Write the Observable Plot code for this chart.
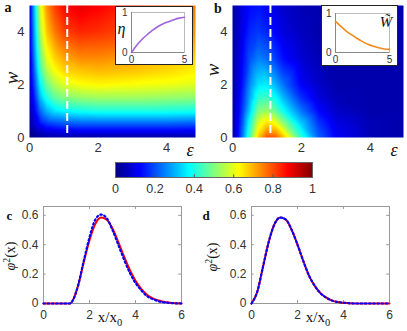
<!DOCTYPE html>
<html><head><meta charset="utf-8">
<script src="https://cdn.jsdelivr.net/npm/d3@7"></script>
<script src="https://cdn.jsdelivr.net/npm/@observablehq/plot@0.6"></script>
<style>
body{margin:0;background:#fff}
#root{position:relative;width:407px;height:331px;overflow:hidden;background:#fff}
#root svg{position:absolute;overflow:visible}
.lbl{position:absolute;transform:translate(-50%,-50%);white-space:nowrap;line-height:1;color:#111;font-family:"Liberation Serif","DejaVu Serif",serif}
.rot{transform:translate(-50%,-50%) rotate(-90deg)}
.inset{position:absolute;background:#fff;border:1px solid #222;box-sizing:border-box}
</style></head><body><div id="root"></div>
<script>
// ---------- data ----------
// panel a : heat map over (epsilon, w)
const epsA = [0, 0.15, 0.3, 0.5, 0.75, 1, 1.5, 2, 3, 4, 5];
const wA = [0, 0.5, 1, 1.5, 2, 2.5, 3, 4, 5];
const a_w0   = [0.00, 0.01, 0.02, 0.03, 0.03, 0.03, 0.03, 0.03, 0.03, 0.03, 0.03];
const a_w05  = [0.03, 0.08, 0.13, 0.17, 0.19, 0.20, 0.21, 0.21, 0.21, 0.21, 0.20];
const a_w1   = [0.04, 0.12, 0.22, 0.30, 0.35, 0.37, 0.39, 0.40, 0.40, 0.40, 0.39];
const a_w15  = [0.05, 0.16, 0.30, 0.40, 0.47, 0.50, 0.52, 0.53, 0.53, 0.52, 0.51];
const a_w2   = [0.06, 0.20, 0.36, 0.48, 0.55, 0.59, 0.62, 0.63, 0.62, 0.61, 0.59];
const a_w25  = [0.07, 0.23, 0.42, 0.55, 0.62, 0.66, 0.68, 0.69, 0.68, 0.66, 0.63];
const a_w3   = [0.07, 0.26, 0.46, 0.60, 0.67, 0.71, 0.74, 0.74, 0.72, 0.69, 0.66];
const a_w4   = [0.08, 0.30, 0.53, 0.68, 0.76, 0.81, 0.84, 0.83, 0.80, 0.76, 0.72];
const a_w5   = [0.08, 0.33, 0.58, 0.73, 0.82, 0.87, 0.90, 0.88, 0.84, 0.79, 0.75];
const rowsA = [a_w0, a_w05, a_w1, a_w15, a_w2, a_w25, a_w3, a_w4, a_w5];

// panel b : heat map
const epsB = [0, 0.15, 0.3, 0.5, 0.75, 1, 1.25, 1.5, 2, 2.5, 3, 4, 5];
const wB = [0, 0.5, 1, 1.5, 2, 3, 4, 5];
const b_w0  = [0.03, 0.12, 0.25, 0.45, 0.68, 0.80, 0.79, 0.68, 0.42, 0.22, 0.12, 0.05, 0.04];
const b_w05 = [0.03, 0.11, 0.22, 0.40, 0.60, 0.67, 0.63, 0.52, 0.33, 0.18, 0.10, 0.05, 0.04];
const b_w1  = [0.03, 0.10, 0.19, 0.33, 0.50, 0.53, 0.47, 0.38, 0.24, 0.13, 0.07, 0.04, 0.04];
const b_w15 = [0.03, 0.09, 0.17, 0.29, 0.42, 0.44, 0.38, 0.30, 0.17, 0.09, 0.05, 0.04, 0.04];
const b_w2  = [0.03, 0.08, 0.15, 0.26, 0.35, 0.36, 0.30, 0.23, 0.12, 0.07, 0.04, 0.04, 0.04];
const b_w3  = [0.03, 0.07, 0.13, 0.20, 0.25, 0.23, 0.18, 0.13, 0.08, 0.05, 0.04, 0.04, 0.04];
const b_w4  = [0.03, 0.06, 0.11, 0.16, 0.18, 0.16, 0.12, 0.09, 0.06, 0.04, 0.04, 0.04, 0.04];
const b_w5  = [0.03, 0.06, 0.10, 0.13, 0.14, 0.12, 0.09, 0.07, 0.05, 0.04, 0.04, 0.04, 0.04];
const rowsB = [b_w0, b_w05, b_w1, b_w15, b_w2, b_w3, b_w4, b_w5];

const dashEps = 1.1;
const heatTicks = [0, 2, 4];

// insets
const insetEps = [0, 0.5, 1, 1.5, 2, 2.5, 3, 3.5, 4, 4.5, 5];
const etaVals  = [0, 0.18, 0.33, 0.45, 0.56, 0.65, 0.72, 0.77, 0.82, 0.86, 0.88];
const wTilde   = [0.80, 0.67, 0.55, 0.45, 0.36, 0.28, 0.21, 0.16, 0.12, 0.09, 0.08];
const insetXTicks = [0, 5];
const insetYTicks = [0, 1];

// colour bar
const cbTicks = [0, 0.2, 0.4, 0.6, 0.8, 1];
const jetStops  = [0, 0.125, 0.375, 0.625, 0.875, 1];
const jetColors = ["#000086", "#0000ff", "#00ffff", "#ffff00", "#ff0000", "#800000"];

// panel c
const xC    = [0, 0.5, 1, 1.15, 1.3, 1.5, 1.75, 2, 2.25, 2.5, 2.75, 3, 3.25, 3.5, 3.75, 4, 4.25, 4.5, 4.75, 5, 5.5, 6];
const redC  = [0, 0, 0, 0, 0.03, 0.12, 0.28, 0.43, 0.54, 0.585, 0.57, 0.51, 0.42, 0.32, 0.23, 0.155, 0.10, 0.06, 0.035, 0.02, 0.005, 0];
const blueC = [0, 0, 0, 0, 0.03, 0.12, 0.29, 0.45, 0.57, 0.605, 0.58, 0.50, 0.40, 0.30, 0.21, 0.14, 0.09, 0.05, 0.03, 0.015, 0.004, 0];
// panel d
const xD    = [0, 0.25, 0.5, 0.75, 1, 1.25, 1.5, 1.75, 2, 2.25, 2.5, 2.75, 3, 3.25, 3.5, 3.75, 4, 4.5, 5, 6];
const redD  = [0, 0.08, 0.25, 0.42, 0.54, 0.585, 0.57, 0.50, 0.40, 0.29, 0.19, 0.12, 0.07, 0.04, 0.02, 0.01, 0.005, 0, 0, 0];
const blueD = [0, 0.08, 0.25, 0.42, 0.54, 0.585, 0.57, 0.50, 0.40, 0.29, 0.19, 0.12, 0.07, 0.04, 0.02, 0.01, 0.005, 0, 0, 0];
const lineXTicks = [0, 2, 4, 6];
const lineYTicks = [0, 0.2, 0.4, 0.6];

// ---------- helpers ----------
const root = document.getElementById("root");
const fmt = d => String(d);
function place(svg, left, top) {
  svg.style.left = left + "px"; svg.style.top = top + "px";
  root.appendChild(svg);
}
function label(html, x, y, size, cls = "lbl") {
  const d = document.createElement("div");
  d.className = cls;
  d.innerHTML = html;
  d.style.left = x + "px"; d.style.top = y + "px";
  d.style.fontSize = size + "px";
  root.appendChild(d);
}
function grid(xs, ys, rows) {
  const out = [];
  rows.forEach((row, i) => row.forEach((v, j) => out.push({x: xs[j], y: ys[i], v})));
  return out;
}
const jet = {type: "linear", domain: jetStops, range: jetColors, interpolate: "rgb", clamp: true};
const sansStyle = (fs) => ({fontFamily: "'Liberation Sans', Arial, sans-serif", fontSize: fs + "px", color: "#333", background: "transparent", overflow: "visible"});

function heat(points, xmax, w, ml, mr) {
  return Plot.plot({
    width: w, height: 160, marginLeft: ml, marginRight: mr, marginTop: 5, marginBottom: 23,
    style: sansStyle(13),
    x: {domain: [0, xmax], ticks: heatTicks, tickSize: 0, tickPadding: 5, label: null, tickFormat: fmt},
    y: {domain: [0, 5], ticks: heatTicks, tickSize: 0, tickPadding: 5, label: null, tickFormat: fmt},
    color: jet,
    marks: [
      Plot.raster(points, {x: "x", y: "y", fill: "v", interpolate: "barycentric", pixelSize: 1, x1: 0, x2: xmax, y1: 0, y2: 5}),
      Plot.ruleX([dashEps], {stroke: "white", strokeWidth: 2, strokeDasharray: "8,4"})
    ]
  });
}
place(heat(grid(epsA, wA, rowsA), 4.84, 200, 29, 5), 0, 0);
place(heat(grid(epsB, wB, rowsB), 4.96, 207, 32, 4), 200, 0);

// insets
function inset(vals, color, w, h, ml, mr, mt, mb) {
  return Plot.plot({
    width: w, height: h, marginLeft: ml, marginRight: mr, marginTop: mt, marginBottom: mb,
    style: sansStyle(10),
    x: {domain: [0, 5], ticks: insetXTicks, tickSize: 0, tickPadding: 3, label: null, tickFormat: fmt},
    y: {domain: [0, 1], ticks: insetYTicks, tickSize: 0, tickPadding: 4, label: null, tickFormat: fmt},
    marks: [
      Plot.frame({stroke: "#bbb"}),
      Plot.ruleY([0], {stroke: "#888"}),
      Plot.ruleX([0], {stroke: "#888"}),
      Plot.line(insetEps.map((e, i) => ({e, v: vals[i]})), {x: "e", y: "v", stroke: color, strokeWidth: 1.6, curve: "monotone-x"})
    ]
  });
}
function insetBox(left, top, w, h) {
  const d = document.createElement("div");
  d.className = "inset";
  d.style.cssText += `left:${left}px;top:${top}px;width:${w}px;height:${h}px`;
  root.appendChild(d);
}
insetBox(115, 6, 78, 59);
place(inset(etaVals, "#a064dc", 78, 59, 16, 9, 6, 13), 115, 6);
insetBox(321, 5, 77, 61);
place(inset(wTilde, "#f58a1f", 77, 61, 14, 9, 8, 14), 321, 5);

// colour bar
place(Plot.plot({
  width: 230, height: 45, marginLeft: 15, marginRight: 18, marginTop: 7, marginBottom: 23,
  style: sansStyle(12.5),
  x: {domain: [0, 1], ticks: cbTicks, tickSize: 0, tickPadding: 7, label: null, tickFormat: fmt},
  y: {domain: [0, 1], axis: null},
  color: jet,
  marks: [
    Plot.raster({fill: (x, y) => x, x1: 0, x2: 1, y1: 0, y2: 1, pixelSize: 1}),
    Plot.ruleX(cbTicks.slice(1, -1), {x: d => d, y1: 0, y2: 0.18, stroke: "#555"}),
    Plot.frame({stroke: "#666"})
  ]
}), 100, 155);

// line panels
function linePanel(xs, red, blue, w, ml, mr) {
  const r = xs.map((x, i) => ({x, y: red[i]}));
  const b = xs.map((x, i) => ({x, y: blue[i]}));
  return Plot.plot({
    width: w, height: 131, marginLeft: ml, marginRight: mr, marginTop: 6, marginBottom: 28,
    style: sansStyle(12),
    x: {domain: [0, 6], ticks: lineXTicks, tickSize: 0, tickPadding: 7, label: null, tickFormat: fmt},
    y: {domain: [0, 0.66], ticks: lineYTicks, tickSize: 0, tickPadding: 5, label: null, tickFormat: fmt},
    marks: [
      Plot.frame({stroke: "#999"}),
      Plot.ruleY(lineYTicks.slice(1), {y: d => d, x1: 0, x2: 0.12, stroke: "#999"}),
      Plot.ruleY(lineYTicks.slice(1), {y: d => d, x1: 5.88, x2: 6, stroke: "#999"}),
      Plot.ruleX(lineXTicks.slice(1, -1), {x: d => d, y1: 0, y2: 0.02, stroke: "#999"}),
      Plot.ruleX(lineXTicks.slice(1, -1), {x: d => d, y1: 0.64, y2: 0.66, stroke: "#999"}),
      Plot.line(r, {x: "x", y: "y", stroke: "#ff0000", strokeWidth: 2, curve: "monotone-x"}),
      Plot.line(b, {x: "x", y: "y", stroke: "#0000ff", strokeWidth: 2.2, strokeDasharray: "1.6,2.6", curve: "monotone-x"})
    ]
  });
}
place(linePanel(xC, redC, blueC, 200, 43, 19), 0, 200);
place(linePanel(xD, redD, blueD, 207, 51, 18), 200, 200);

// ---------- text labels ----------
label("<b>a</b>", 8, 8, 14);
label("<b>b</b>", 218, 8.5, 14);
label("<i>w</i>", 11, 78, 19, "lbl rot");
label("<i>w</i>", 212, 70, 19, "lbl rot");
label("<i>ε</i>", 190, 150, 18);
label("<i>ε</i>", 394, 150, 18);
label("<i>η</i>", 121.5, 29, 16);
label("<i>W̃</i>", 386, 22, 15);
label("<b>c</b>", 9.5, 214.5, 13);
label("<b>d</b>", 206, 214.5, 13);
label("<i>φ</i><sup style='font-size:70%'>2</sup>(x)", 10, 256, 14, "lbl rot");
label("<i>φ</i><sup style='font-size:70%'>2</sup>(x)", 212, 257, 14, "lbl rot");
label("x/x<sub style='font-size:70%'>0</sub>", 110, 319, 15);
label("x/x<sub style='font-size:70%'>0</sub>", 318, 319, 15);
</script></body></html>
